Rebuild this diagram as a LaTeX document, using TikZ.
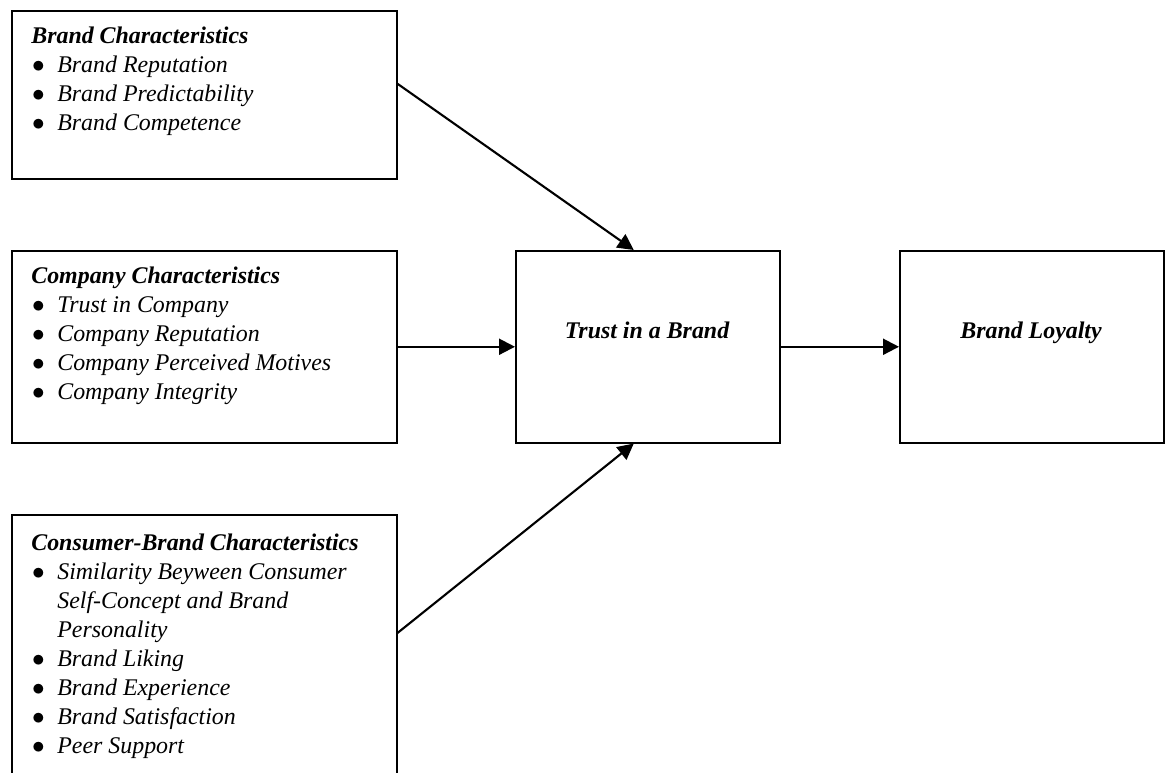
\documentclass[tikz,border=0pt]{standalone}
\usepackage{fontspec}
\setmainfont{Liberation Serif}
\usetikzlibrary{arrows.meta}

\newcommand{\bitem}[1]{\hspace*{0.5pt}\makebox[14.3pt][l]{$\bullet$}\textit{#1}}
\newcommand{\bmore}[1]{\hspace*{14.8pt}\textit{#1}}

\begin{document}
\begin{tikzpicture}[x=0.02cm, y=-0.02cm,
    box/.style={draw, line width=0.9pt, minimum width=7.7cm, inner sep=0pt, anchor=north west},
    lst/.style={anchor=north west, align=left, inner sep=0pt, font=\fontsize{13.6}{16.5}\selectfont},
    ttl/.style={anchor=base, inner sep=0pt, font=\fontsize{13.6}{16.5}\selectfont\bfseries\itshape},
    arr/.style={-{Triangle[length=0.32cm, width=0.32cm]}, line width=1.2pt}]
			\useasboundingbox (0,0) rectangle (1166,773);
			\clip (0,0) rectangle (1166,773);

			% boxes
			\node[box, minimum height=3.36cm] (brand) at (11,10) {};
			\node[box, minimum height=3.84cm] (company) at (11,250) {};
			\node[box, minimum height=5.8cm] (consumer) at (11,514) {};
			\node[box, minimum width=5.28cm, minimum height=3.84cm] (trust) at (515,250) {};
			\node[box, minimum width=5.28cm, minimum height=3.84cm] (loyalty) at (899,250) {};

			% texts
			\node[lst] (brandtxt) at ([xshift=0.4cm, yshift=-0.34cm]brand.north west)
				{\textbf{\textit{Brand Characteristics}}\\ \bitem{Brand Reputation}\\ \bitem{Brand Predictability}\\ \bitem{Brand Competence}};
			\node[lst] (companytxt) at ([xshift=0.4cm, yshift=-0.34cm]company.north west)
				{\textbf{\textit{Company Characteristics}}\\ \bitem{Trust in Company}\\ \bitem{Company Reputation}\\ \bitem{Company Perceived Motives}\\ \bitem{Company Integrity}};
			\node[lst] (consumertxt) at ([xshift=0.4cm, yshift=-0.4cm]consumer.north west)
				{\textbf{\textit{Consumer-Brand Characteristics}}\\ \bitem{Similarity Beyween Consumer}\\ \bmore{Self-Concept and Brand}\\ \bmore{Personality}\\ \bitem{Brand Liking}\\ \bitem{Brand Experience}\\ \bitem{Brand Satisfaction}\\ \bitem{Peer Support}};
			\node[ttl] (trusttxt) at (647,338) {Trust in a Brand};
			\node[ttl] (loyaltytxt) at (1031,338) {Brand Loyalty};

			% arrows
			\draw[arr] ([yshift=0.22cm]brand.east) -- ([xshift=-0.28cm]trust.north);
			\draw[arr] (company) -- (trust);
			\draw[arr] ([yshift=-2.38cm]consumer.north east) -- ([xshift=-0.28cm]trust.south);
			\draw[arr] (trust) -- (loyalty);

		\end{tikzpicture}
\end{document}
